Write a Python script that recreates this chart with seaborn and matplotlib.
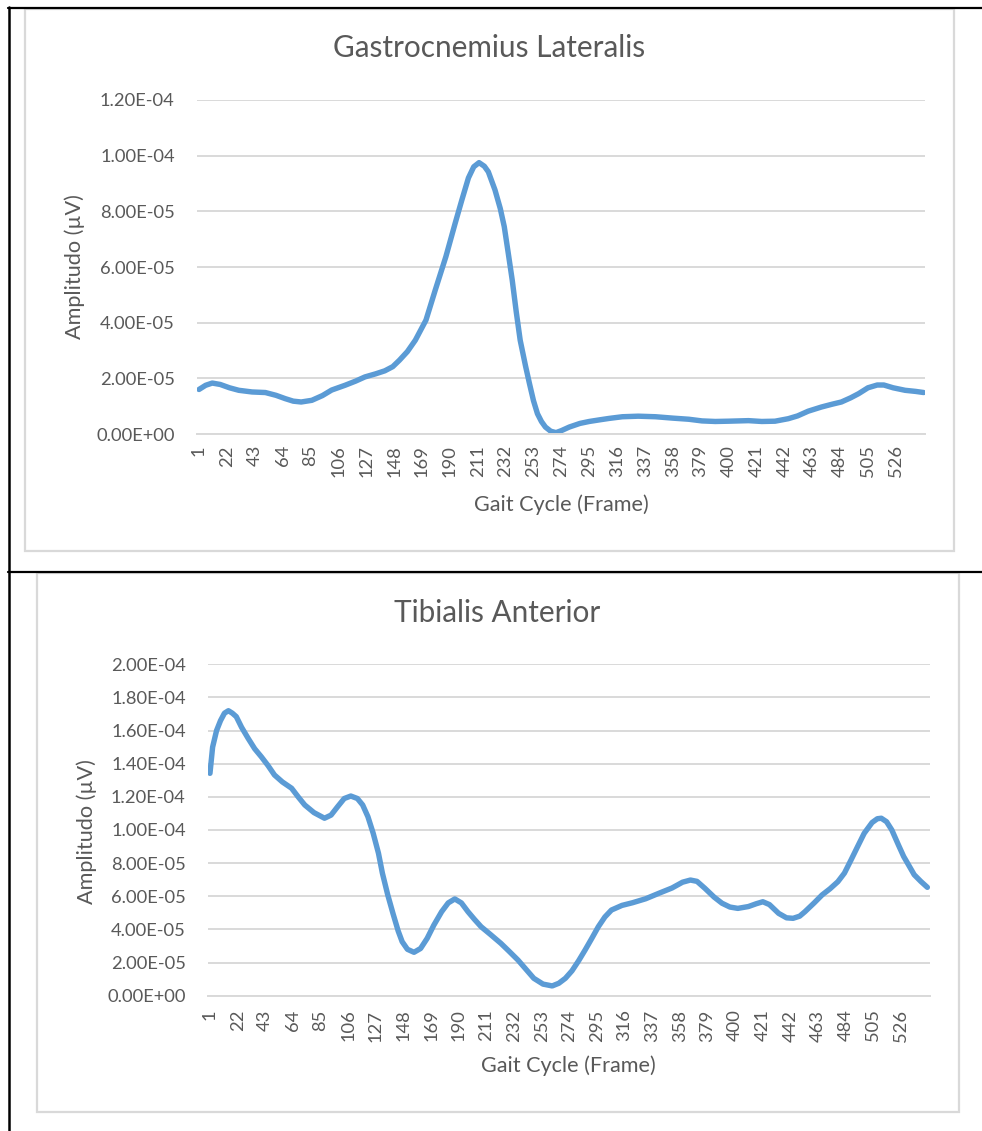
import numpy as np
import pandas as pd
import matplotlib
matplotlib.use("Agg")
import matplotlib.pyplot as plt
from matplotlib.lines import Line2D
from matplotlib.patches import Rectangle
from matplotlib.ticker import FuncFormatter, MultipleLocator, FixedLocator
import seaborn as sns

# Gastrocnemius Lateralis: frame, amplitude (x1e-5 uV)
gl_frames = [1, 6, 11, 17, 24, 31, 41, 51, 59, 66, 72, 78, 86, 94, 101, 111, 119,
             126, 134, 141, 147, 152, 158, 164, 172, 179, 187, 194, 199, 204, 208,
             212, 216, 219, 224, 228, 231, 234, 237, 240, 243, 247, 250, 253, 256,
             259, 262, 266, 270, 274, 280, 288, 295, 303, 310, 320, 332, 345, 358,
             370, 380, 390, 400, 415, 425, 435, 445, 452, 460, 470, 478, 485, 492,
             498, 505, 512, 517, 524, 533, 541, 547]
gl_amplitude = [1.60, 1.75, 1.83, 1.78, 1.66, 1.57, 1.51, 1.49, 1.39, 1.27, 1.18,
                1.15, 1.21, 1.38, 1.58, 1.75, 1.90, 2.05, 2.16, 2.27, 2.42, 2.65,
                2.96, 3.37, 4.09, 5.17, 6.37, 7.57, 8.40, 9.20, 9.60, 9.75, 9.62,
                9.42, 8.77, 8.10, 7.45, 6.50, 5.53, 4.40, 3.37, 2.45, 1.81, 1.20,
                0.73, 0.45, 0.25, 0.10, 0.05, 0.12, 0.25, 0.38, 0.45, 0.51, 0.56,
                0.62, 0.64, 0.62, 0.57, 0.53, 0.47, 0.45, 0.46, 0.48, 0.45, 0.46,
                0.55, 0.65, 0.82, 0.97, 1.07, 1.15, 1.30, 1.45, 1.66, 1.76, 1.76,
                1.66, 1.57, 1.53, 1.49]

# Tibialis Anterior: frame, amplitude (x1e-5 uV)
ta_frames = [1, 3, 6, 9, 12, 15, 18, 21, 25, 30, 35, 40, 45, 50, 56, 63, 68, 73,
             80, 88, 93, 98, 103, 108, 113, 117, 121, 125, 129, 132, 136, 140, 144,
             147, 151, 156, 161, 166, 171, 177, 182, 187, 192, 197, 202, 207, 214,
             222, 228, 235, 241, 247, 254, 261, 266, 271, 276, 281, 286, 291, 296,
             301, 306, 314, 322, 332, 342, 352, 360, 366, 371, 377, 384, 390, 396,
             402, 410, 416, 421, 426, 433, 439, 444, 449, 453, 460, 466, 472, 478,
             483, 488, 493, 498, 504, 508, 511, 515, 519, 524, 528, 531, 536, 541,
             546]
ta_amplitude = [13.42, 15.0, 16.0, 16.6, 17.05, 17.2, 17.05, 16.84, 16.2, 15.53,
                14.9, 14.42, 13.9, 13.32, 12.9, 12.52, 12.0, 11.51, 11.05, 10.71,
                10.9, 11.41, 11.9, 12.05, 11.9, 11.51, 10.8, 9.8, 8.6, 7.39, 6.1,
                4.97, 3.9, 3.26, 2.8, 2.62, 2.85, 3.46, 4.25, 5.07, 5.6, 5.84, 5.6,
                5.07, 4.6, 4.16, 3.7, 3.16, 2.7, 2.15, 1.6, 1.05, 0.7, 0.59, 0.75,
                1.05, 1.5, 2.1, 2.76, 3.45, 4.16, 4.75, 5.17, 5.45, 5.61, 5.85,
                6.18, 6.5, 6.85, 6.98, 6.9, 6.48, 5.95, 5.58, 5.35, 5.27, 5.38,
                5.55, 5.67, 5.5, 4.97, 4.7, 4.67, 4.8, 5.07, 5.6, 6.08, 6.45, 6.88,
                7.4, 8.19, 9.0, 9.8, 10.45, 10.68, 10.71, 10.5, 10.0, 9.1, 8.4,
                7.99, 7.3, 6.9, 6.54]

x_tick_labels = list(range(1, 547, 21))
SCALE = 1e-5

LINE_COLOR = "#5B9BD5"
TEXT_COLOR = "#595959"
GRID_COLOR = "#D9D9D9"

sns.set_theme(style="white")
plt.rcParams["font.family"] = ["Lato", "DejaVu Sans"]

W, H = 982, 1131
fig = plt.figure(figsize=(W / 100, H / 100), dpi=100)
fig.patch.set_facecolor("white")


def fx(px):
    return px / W


def fy(py):
    return 1 - py / H


def add_axes(left, top, right, bottom):
    return fig.add_axes([fx(left), fy(bottom), fx(right - left), (bottom - top) / H])


def sci(v, _pos):
    return f"{v:.2E}"


def style_panel(ax, frames, values, ymax, title, ypad, xpad,
                title_xy, xlabel_xy, ylabel_xy):
    df = pd.DataFrame({"frame": frames, "amp": np.array(values) * SCALE})
    sns.lineplot(data=df, x="frame", y="amp", ax=ax, color=LINE_COLOR,
                 linewidth=3.9, solid_capstyle="round", solid_joinstyle="round")
    ax.set_xlim(-0.5, 548)
    ax.set_ylim(0, ymax)
    ax.yaxis.set_major_locator(MultipleLocator(2e-5))
    ax.yaxis.set_major_formatter(FuncFormatter(sci))
    ax.xaxis.set_major_locator(FixedLocator(x_tick_labels))
    ax.set_xticklabels([str(v) for v in x_tick_labels], rotation=90,
                       ha="center", va="top")
    ax.tick_params(axis="both", length=0, labelsize=13.2, colors=TEXT_COLOR)
    ax.tick_params(axis="y", pad=ypad)
    ax.tick_params(axis="x", pad=xpad)
    ax.grid(axis="y", color=GRID_COLOR, linewidth=1.4)
    ax.set_axisbelow(True)
    for side in ("top", "right", "left"):
        ax.spines[side].set_visible(False)
    ax.spines["bottom"].set_color(GRID_COLOR)
    ax.spines["bottom"].set_linewidth(1.4)
    ax.set_xlabel("")
    ax.set_ylabel("")
    fig.text(fx(title_xy[0]), fy(title_xy[1]), title, ha="center", va="center",
             fontsize=21.4, color=TEXT_COLOR)
    fig.text(fx(xlabel_xy[0]), fy(xlabel_xy[1]), "Gait Cycle (Frame)",
             ha="center", va="center", fontsize=15.6, color=TEXT_COLOR)
    fig.text(fx(ylabel_xy[0]), fy(ylabel_xy[1]), "Amplitudo (µV)",
             ha="center", va="center", rotation=90, fontsize=15.6,
             color=TEXT_COLOR)


# chart frames
for (l, t, r, b) in [(25, 9, 954, 551), (37, 573, 959, 1112)]:
    fig.add_artist(Rectangle((fx(l), fy(b)), fx(r - l), (b - t) / H,
                             transform=fig.transFigure, facecolor="none",
                             edgecolor=GRID_COLOR, linewidth=1.6))

# table rules
for xs, ys, lw in [((8, 982), (7.5, 7.5), 1.6), ((8, 982), (571.5, 571.5), 1.6),
                   ((8.5, 8.5), (7, 1131), 1.8)]:
    fig.add_artist(Line2D([fx(x) for x in xs], [fy(y) for y in ys],
                          transform=fig.transFigure, color="black", linewidth=lw))

ax1 = add_axes(197, 100, 925, 434)
style_panel(ax1, gl_frames, gl_amplitude, 1.2e-4, "Gastrocnemius Lateralis",
            ypad=16, xpad=8, title_xy=(489, 48), xlabel_xy=(561, 505),
            ylabel_xy=(75, 267))

ax2 = add_axes(208, 664.3, 930, 995.7)
style_panel(ax2, ta_frames, ta_amplitude, 2.0e-4, "Tibialis Anterior",
            ypad=16, xpad=10, title_xy=(497, 613), xlabel_xy=(568, 1066),
            ylabel_xy=(87, 832))

fig.savefig("out.png", dpi=100, facecolor="white")
